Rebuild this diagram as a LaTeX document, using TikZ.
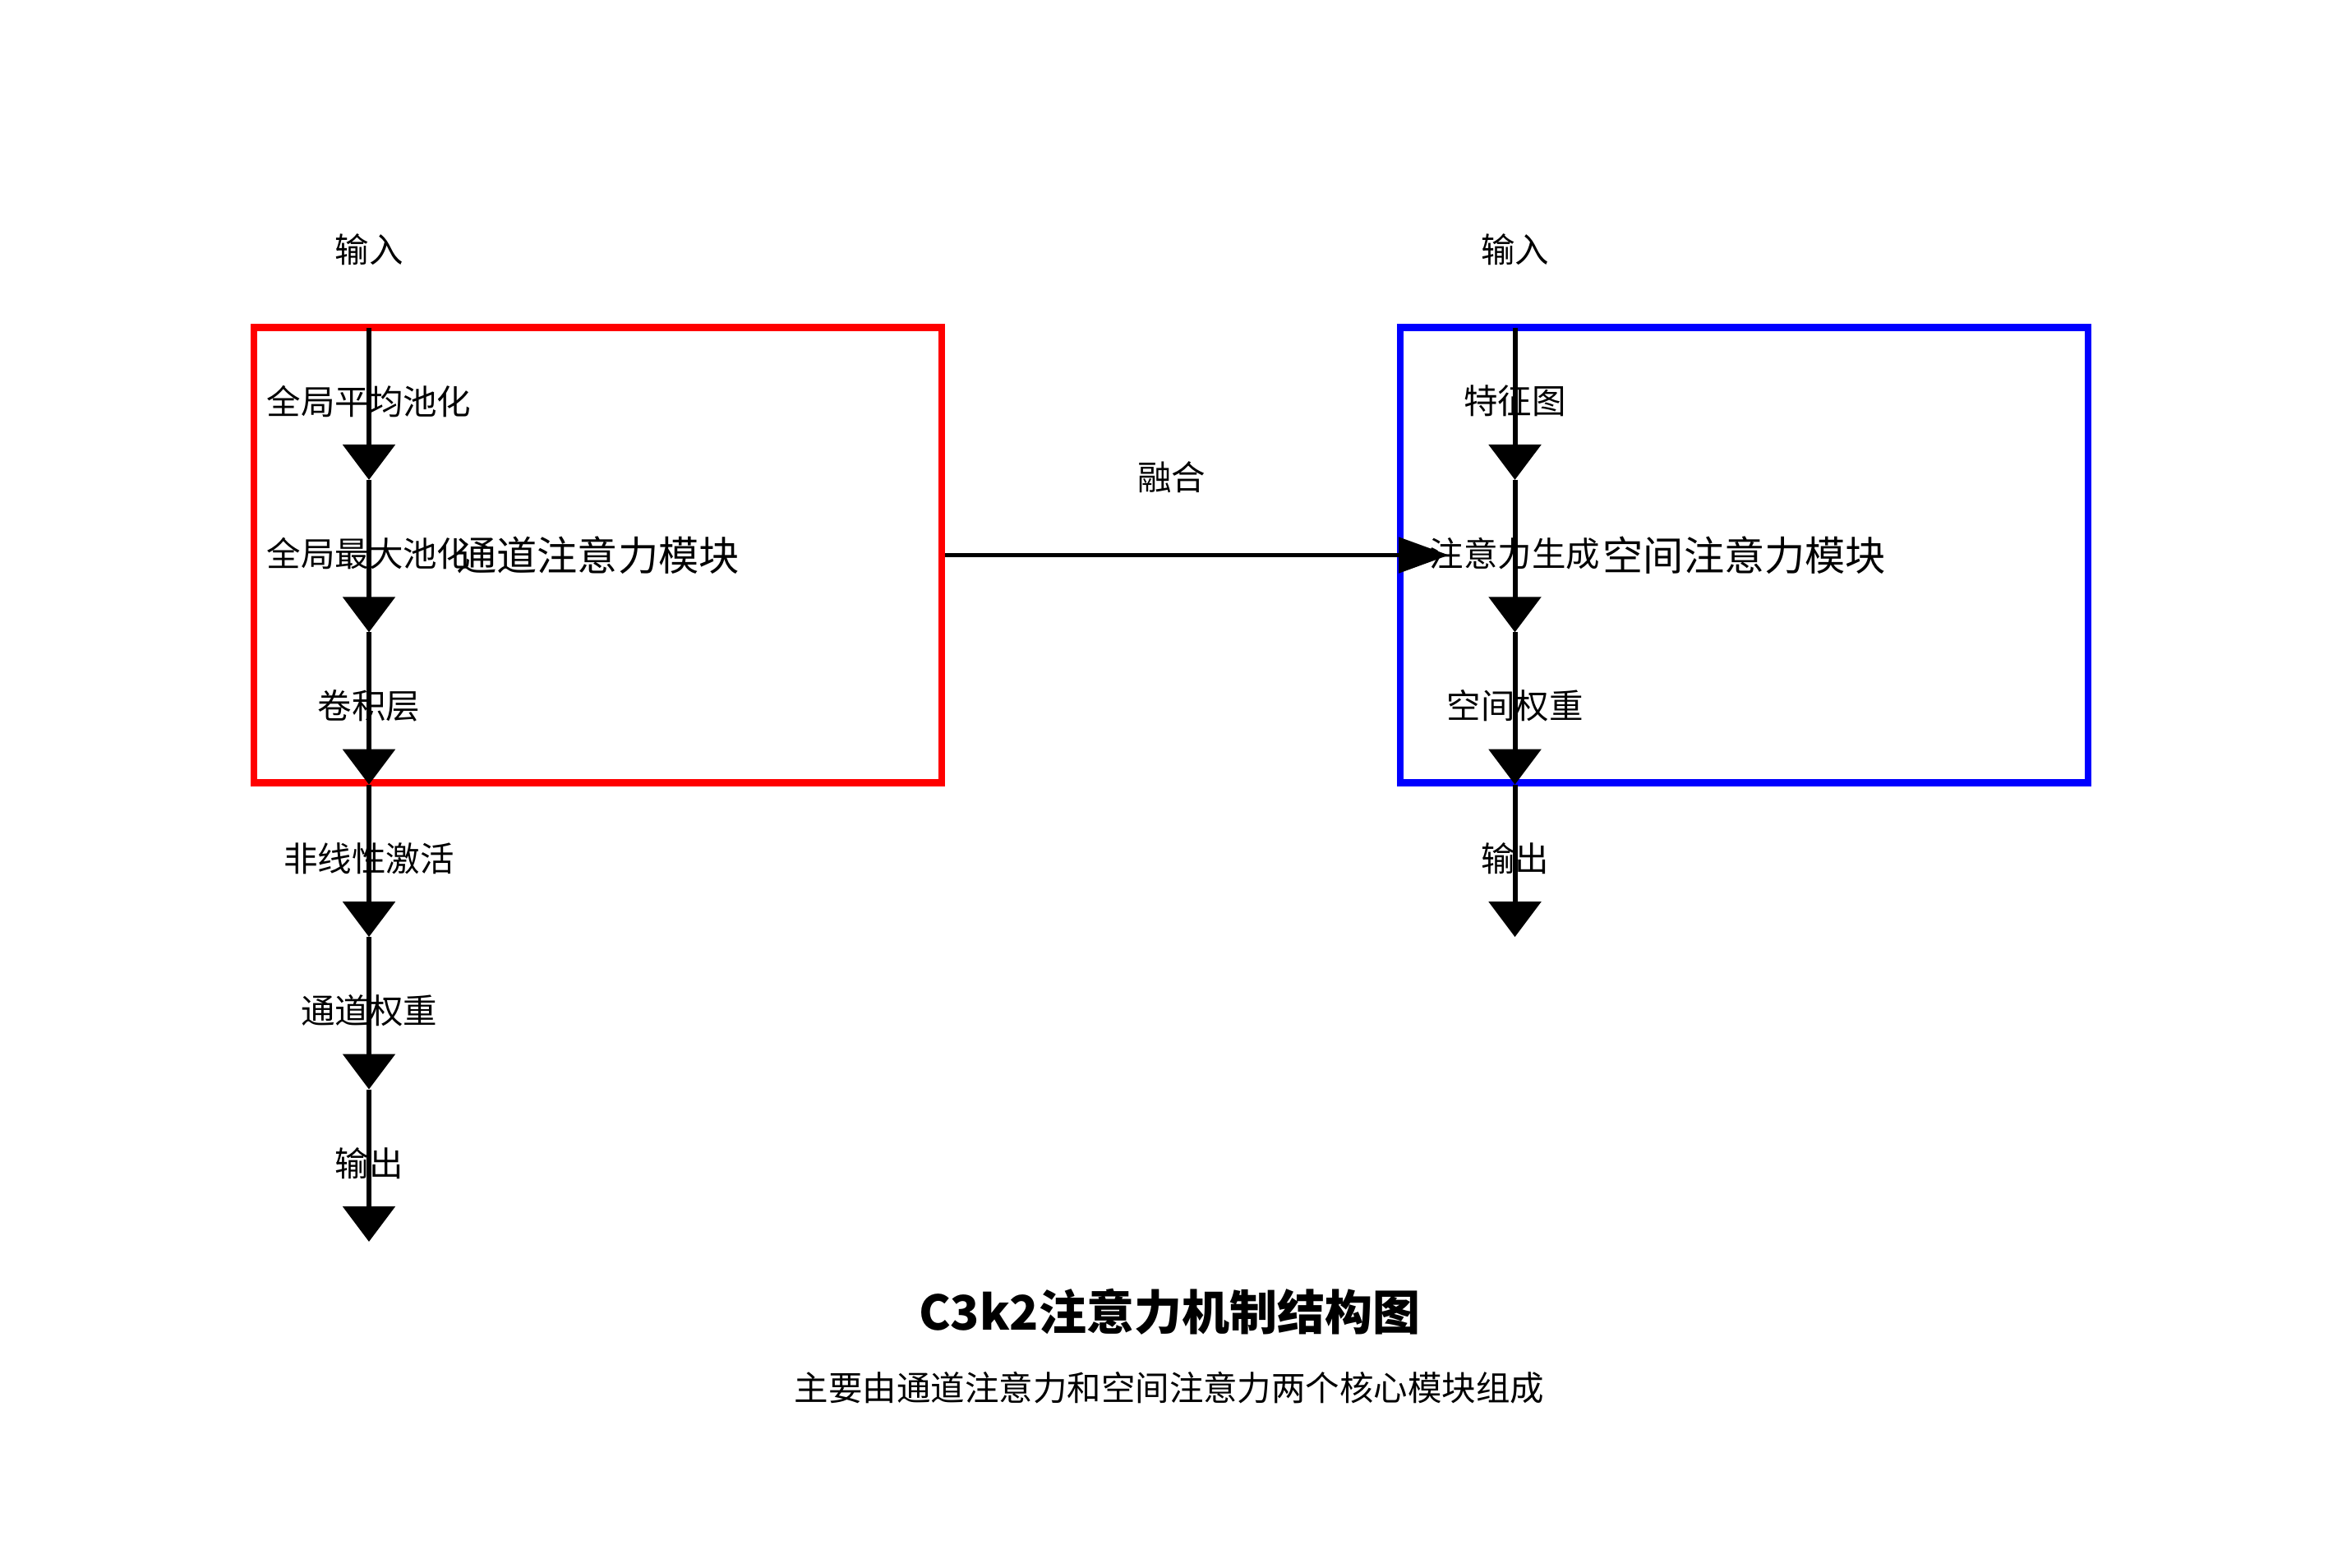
\documentclass[tikz,border=0pt]{standalone}
\usepackage{fontspec}
\setmainfont{Noto Sans CJK SC}
\usepackage{tikz}
\usetikzlibrary{positioning,arrows.meta}

\begin{document}
\begin{tikzpicture}[
  every node/.style={font=\fontsize{11.8}{14}\selectfont, inner sep=0pt},
  modbox/.style={draw=#1, line width=2.3pt, minimum width=8.37cm,
                 minimum height=5.54cm, font=\fontsize{14}{17}\selectfont},
  flow/.style={-{Triangle[length=4.3mm, width=6.3mm]}, line width=1.7pt},
  fuse/.style={-{Triangle[length=6.1mm, width=4.3mm]}, line width=1.4pt}]

\useasboundingbox (0,0) rectangle (28.5,-19.07);

%% the two modules
\node[modbox=red]  (chan) at (7.275,-6.755)  {通道注意力模块};
\node[modbox=blue] (spat) at (21.228,-6.755) {空间注意力模块};

%% channel branch
\node (inL) at (4.49,-3.04) {输入};
\coordinate (l0) at (4.49,-3.985);
\coordinate (l1) at (4.49,-5.839);
\coordinate (l2) at (4.49,-7.693);
\coordinate (l3) at (4.49,-9.547);
\coordinate (l4) at (4.49,-11.401);
\coordinate (l5) at (4.49,-13.255);
\coordinate (l6) at (4.49,-15.109);

\draw[flow] (l0) -- node[yshift=0.03cm] (avgp) {全局平均池化} (l1);
\draw[flow] (l1) -- node[yshift=0.03cm] (maxp) {全局最大池化} (l2);
\draw[flow] (l2) -- node[yshift=0.03cm] (conv) {卷积层} (l3);
\draw[flow] (l3) -- node[yshift=0.03cm] (act)  {非线性激活} (l4);
\draw[flow] (l4) -- node[yshift=0.03cm] (cw)   {通道权重} (l5);
\draw[flow] (l5) -- node[yshift=0.03cm] (outL) {输出} (l6);

%% spatial branch
\node (inR) at (18.435,-3.04) {输入};
\coordinate (r0) at (18.435,-3.985);
\coordinate (r1) at (18.435,-5.839);
\coordinate (r2) at (18.435,-7.693);
\coordinate (r3) at (18.435,-9.547);
\coordinate (r4) at (18.435,-11.401);

\draw[flow] (r0) -- node[yshift=0.03cm] (fmap) {特征图} (r1);
\draw[flow] (r1) -- node[yshift=0.03cm] (agen) {注意力生成} (r2);
\draw[flow] (r2) -- node[yshift=0.03cm] (sw)   {空间权重} (r3);
\draw[flow] (r3) -- node[yshift=0.03cm] (outR) {输出} (r4);

%% fusion
\coordinate (fusetip) at (17.63,-6.755);
\draw[fuse] (chan.east) -- node[pos=0.45, yshift=0.95cm] (fuselbl) {融合} (fusetip);

%% caption
\node[font=\bfseries\fontsize{16.5}{20}\selectfont] (title) at (14.23,-15.96) {C3k2注意力机制结构图};
\node (subtitle) at (14.23,-16.89) {主要由通道注意力和空间注意力两个核心模块组成};
\end{tikzpicture}
\end{document}
